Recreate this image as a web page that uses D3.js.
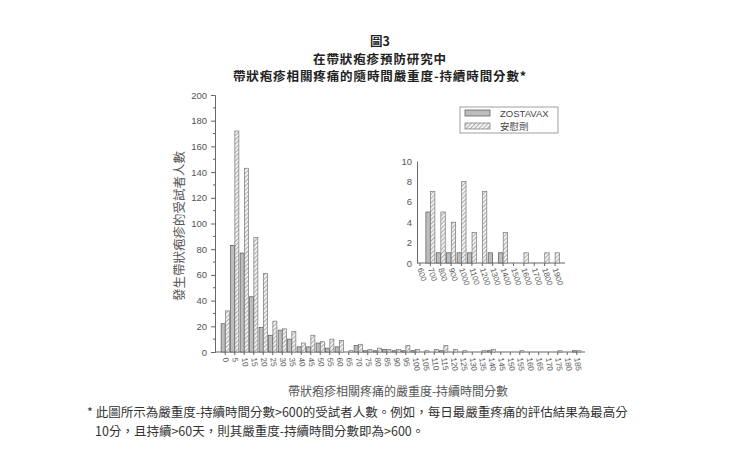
<!DOCTYPE html>
<html><head><meta charset="utf-8">
<script src="https://cdn.jsdelivr.net/npm/d3@7"></script>
<style>body{margin:0;background:#fff}svg{display:block}</style>
</head><body>
<svg id="c" width="740" height="464"></svg>
<script>
const titleLines = ["圖3", "在帶狀疱疹預防研究中", "帶狀疱疹相關疼痛的隨時間嚴重度-持續時間分數*"];
const yAxisTitle = "發生帶狀疱疹的受試者人數";
const xAxisTitle = "帶狀疱疹相關疼痛的嚴重度-持續時間分數";
const footnoteLines = ["* 此圖所示為嚴重度-持續時間分數>600的受試者人數。例如，每日最嚴重疼痛的評估結果為最高分", "10分，且持續>60天，則其嚴重度-持續時間分數即為>600。"];
const seriesNames = ["ZOSTAVAX", "安慰劑"];

const mainCategories = ["0","5","10","15","20","25","30","35","40","45","50","55","60","65","70","75","80","85","90","95",
  "100","105","110","115","120","125","130","135","140","145","150","155","160","165","170","175","180","185"];
const mainZostavax = [22,83,77,43,19,13,17,10,4,4,7,3,4,0,5,1,1,2,1,1, 1,0,0,1,0,0,0,0,1,0,0,0,0,0,0,0,0,1];
const mainPlacebo  = [32,172,143,89,61,24,18,16,7,13,8,10,9,1,6,2,3,2,2,5, 2,1,2,5,2,1,0,1,2,0,0,1,0,0,0,1,0,1];
const mainYTicks = [0,20,40,60,80,100,120,140,160,180,200];

const insetCategories = ["600","700","800","900","1000","1100","1200","1300","1400","1500","1600","1700","1800","1900"];
const insetZostavax = [0,5,1,1,1,1,0,1,1,0,0,0,0,0];
const insetPlacebo  = [0,7,5,4,8,3,7,0,3,0,1,0,1,1];
const insetYTicks = [0,2,4,6,8,10];

const svg = d3.select("#c");
const CJK = "'Noto Sans CJK TC','Noto Sans CJK SC',sans-serif";
const LAT = "'Liberation Sans',Arial,sans-serif";
const axisCol = "#666";

const defs = svg.append("defs");
const pat = defs.append("pattern").attr("id","hatch").attr("patternUnits","userSpaceOnUse")
  .attr("width",3).attr("height",3).attr("patternTransform","rotate(45)");
pat.append("rect").attr("width",3).attr("height",3).attr("fill","#f2f2f2");
pat.append("line").attr("x1",0).attr("y1",0).attr("x2",0).attr("y2",3).attr("stroke","#777").attr("stroke-width",1.1);

svg.append("g").selectAll("text").data(titleLines).join("text")
  .attr("x",380).attr("y",(d,i)=>46+i*17.5).attr("text-anchor","middle")
  .attr("font-family",CJK).attr("font-weight","bold").attr("font-size",12.5)
  .attr("letter-spacing",(d,i)=>i===0?0:0.9).attr("fill","#222").text(d=>d);

function drawChart(g, cats, zs, ps, yMax, yTicks, xr, yr, axisX0, axisX1, opts) {
  const x = d3.scaleBand().domain(cats).range(xr).paddingInner(0).paddingOuter(0);
  const x1 = d3.scaleBand().domain([0,1]).range([0, x.bandwidth()]).paddingInner(0.05).paddingOuter(0.15);
  const y = d3.scaleLinear().domain([0,yMax]).range(yr);
  const ya = d3.axisLeft(y).tickValues(yTicks).tickSize(opts.tick).tickPadding(opts.pad);
  const yg = g.append("g").attr("transform",`translate(${axisX0},0)`).call(ya);
  yg.select(".domain").attr("stroke",axisCol);
  yg.selectAll(".tick line").attr("stroke",axisCol);
  yg.selectAll("text").attr("font-family",LAT).attr("font-size",opts.yfs).attr("fill","#555");
  if (opts.minor) {
    const minor = d3.range(yTicks.length-1).map(i=>(yTicks[i]+yTicks[i+1])/2);
    g.append("g").selectAll("line").data(minor).join("line")
      .attr("x1",axisX0-2).attr("x2",axisX0).attr("y1",d=>y(d)).attr("y2",d=>y(d)).attr("stroke",axisCol);
  }
  g.append("line").attr("x1",axisX0).attr("x2",axisX1).attr("y1",y(0)).attr("y2",y(0)).attr("stroke",axisCol);
  g.append("g").selectAll("line").data(cats).join("line")
    .attr("x1",d=>x(d)+x.bandwidth()/2).attr("x2",d=>x(d)+x.bandwidth()/2)
    .attr("y1",y(0)).attr("y2",y(0)+3).attr("stroke",axisCol);
  g.append("g").selectAll("text").data(cats).join("text")
    .attr("transform",d=>`translate(${x(d)+x.bandwidth()/2-2.5},${y(0)+6}) rotate(${opts.rot})`)
    .attr("font-family",LAT).attr("font-size",opts.xfs).attr("fill","#555").text(d=>d);
  const rows = cats.map((c,i)=>({c, v:[zs[i], ps[i]]}));
  const grp = g.append("g").selectAll("g").data(rows).join("g").attr("transform",d=>`translate(${x(d.c)},0)`);
  grp.selectAll("rect").data(d=>d.v.map((v,k)=>({v,k})).filter(e=>e.v>0)).join("rect")
    .attr("x",e=>x1(e.k)).attr("width",x1.bandwidth())
    .attr("y",e=>y(e.v)).attr("height",e=>y(0)-y(e.v))
    .attr("fill",e=>e.k===0?"#bdbdbd":"url(#hatch)")
    .attr("stroke",e=>e.k===0?"#555":"#777").attr("stroke-width",0.7);
  return {x,y};
}

const main = svg.append("g");
drawChart(main, mainCategories, mainZostavax, mainPlacebo, 200, mainYTicks, [220.5,581.5], [352,95], 215, 585,
  {tick:4, pad:4, yfs:9.5, xfs:8, minor:true, rot:82});

const inset = svg.append("g");
drawChart(inset, insetCategories, insetZostavax, insetPlacebo, 10, insetYTicks, [414.8,560.2], [263,161], 417, 565,
  {tick:0, pad:5, yfs:9.5, xfs:8, minor:false, rot:72});

const lg = svg.append("g");
lg.append("rect").attr("x",460).attr("y",107).attr("width",98).attr("height",26).attr("fill","#fff").attr("stroke","#888").attr("stroke-width",0.8);
lg.append("rect").attr("x",465).attr("y",110).attr("width",25).attr("height",6).attr("fill","#bdbdbd").attr("stroke","#555").attr("stroke-width",0.7);
lg.append("rect").attr("x",465).attr("y",123).attr("width",25).attr("height",6).attr("fill","url(#hatch)").attr("stroke","#777").attr("stroke-width",0.7);
lg.append("text").attr("x",500).attr("y",117).attr("font-family",LAT).attr("font-size",9.5).attr("fill","#444").text(seriesNames[0]);
lg.append("text").attr("x",500).attr("y",130).attr("font-family",CJK).attr("font-size",9.5).attr("fill","#444").text(seriesNames[1]);

svg.append("text").attr("transform","translate(184,226) rotate(-90)").attr("text-anchor","middle")
  .attr("font-family",CJK).attr("font-size",12.5).attr("fill","#555").text(yAxisTitle);
svg.append("text").attr("x",398).attr("y",396).attr("text-anchor","middle")
  .attr("font-family",CJK).attr("font-size",12).attr("fill","#555").text(xAxisTitle);

svg.append("g").selectAll("text").data(footnoteLines).join("text")
  .attr("x",(d,i)=>i===0?87:95).attr("y",(d,i)=>417+i*19)
  .attr("font-family",CJK).attr("font-size",12.5).attr("fill","#333").text(d=>d);
</script>
</body></html>
